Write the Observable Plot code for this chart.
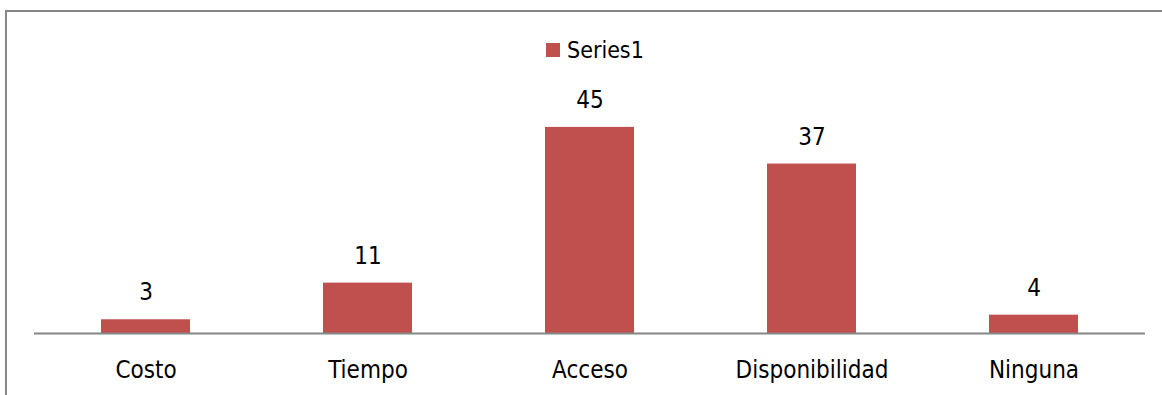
<!DOCTYPE html>
<html>
<head>
<meta charset="utf-8">
<script src="https://cdn.jsdelivr.net/npm/d3@7"></script>
<script src="https://cdn.jsdelivr.net/npm/@observablehq/plot@0.6"></script>
<style>
  html, body { margin: 0; padding: 0; background: #fff; overflow: hidden; }
  #wrap { position: relative; width: 1162px; height: 395px; }
  #frame { position: absolute; left: 5px; top: 10px; width: 1200px; height: 420px; border: 2px solid #868686; box-sizing: border-box; }
  #chart { position: absolute; left: 0; top: 0; }
  #legend { position: absolute; left: 546px; top: 36px; font: 23px "DejaVu Sans Condensed", "DejaVu Sans", sans-serif; font-stretch: condensed; color: #000; display: flex; align-items: center; line-height: 28px; }
  #legend .sw { width: 14px; height: 14px; background: #C0504D; margin-right: 7px; }
</style>
</head>
<body>
<div id="wrap">
  <div id="frame"></div>
  <div id="chart"></div>
  <div id="legend"><span class="sw"></span><span id="legend-label"></span></div>
</div>
<script>
const categories = ["Costo", "Tiempo", "Acceso", "Disponibilidad", "Ninguna"];
const values = [3, 11, 45, 37, 4];
const seriesName = "Series1";

const data = categories.map((c, i) => ({category: c, value: values[i]}));
document.getElementById("legend-label").textContent = seriesName;

const chart = Plot.plot({
  width: 1162,
  height: 395,
  marginLeft: 34,
  marginRight: 17,
  marginTop: 104,
  marginBottom: 62,
  style: {fontFamily: "'DejaVu Sans Condensed', 'DejaVu Sans', sans-serif", fontStretch: "condensed", fontSize: "24px", background: "transparent", overflow: "visible", color: "#000"},
  x: {domain: categories, paddingInner: 0.6, paddingOuter: 0.3, label: null, tickSize: 0, tickPadding: 27},
  y: {domain: [0, 50], axis: null},
  marks: [
    Plot.barY(data, {x: "category", y: "value", fill: "#C0504D"}),
    Plot.ruleY([0], {stroke: "#868686", strokeWidth: 2}),
    Plot.text(data, {x: "category", y: "value", text: d => String(d.value), dy: -27, fill: "#000", fontSize: 24})
  ]
});
chart.querySelectorAll("text").forEach(t => t.setAttribute("font-size", "24"));
document.getElementById("chart").appendChild(chart);
</script>
</body>
</html>
